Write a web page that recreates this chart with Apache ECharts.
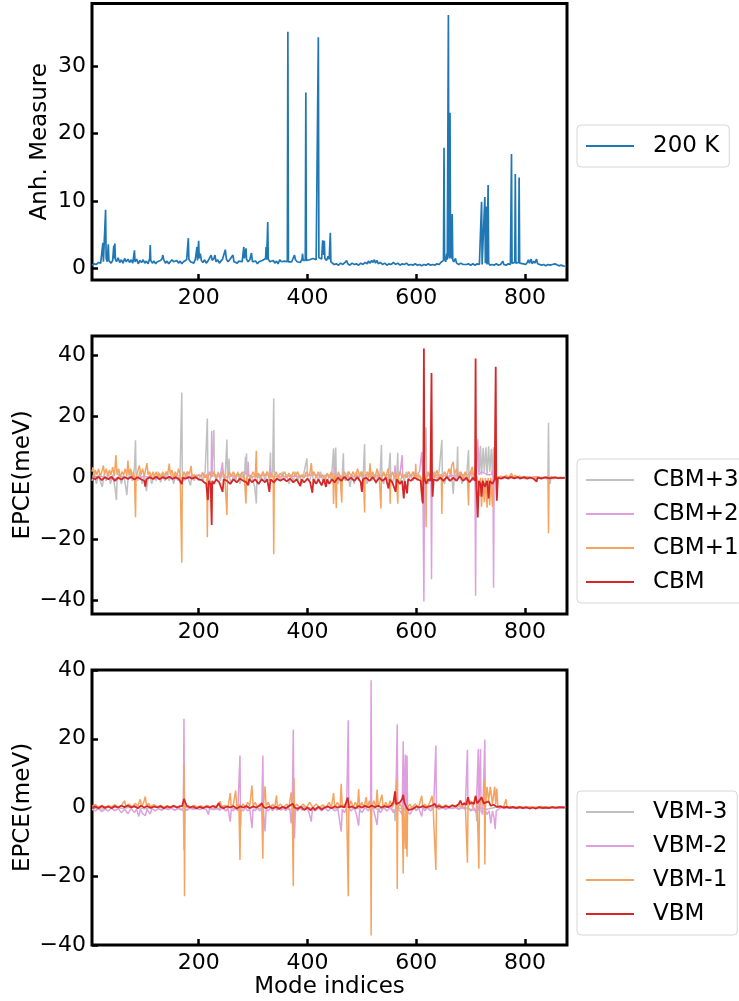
<!DOCTYPE html>
<html>
<head>
<meta charset="utf-8">
<title>Anharmonicity and EPCE</title>
<script src="https://cdn.jsdelivr.net/npm/echarts@6.0.0/dist/echarts.min.js"></script>
<style>
    html, body { margin: 0; padding: 0; background: #fff; }
    #main { width: 739px; height: 1001px; }
</style>
</head>
<body>
<div id="main"></div>
<script>
// ---- data: [mode index, value] ----
var xTicks = [200, 400, 600, 800];
var anhTicks = [0, 10, 20, 30];
var epceTicks = [-40, -20, 0, 20, 40];

var anh200K = [
    [4,0.5],[8,0.7],[12,0.6],[16,0.9],[20,0.8],[23,1.0],[24,3.8],[25,1.0],[27,1.2],[29,8.7],[30,1.5],[32,1.0],[34,3.6],[35,1.2],[37,1.4],[39,0.8],[42,1.2],[44,3.4],[45,1.5],[46,3.7],[47,1.4],[49,1.0],
    [52,1.6],[55,0.9],[58,1.3],[61,0.8],[64,1.5],[67,1.0],[70,1.4],[73,0.9],[76,1.3],[79,0.8],[82,2.7],[83,1.0],[86,1.4],[89,0.7],[92,1.2],[95,0.9],[98,1.3],[101,0.8],[104,1.1],[107,0.7],[110,1.5],[111,3.5],[112,1.2],
    [115,0.8],[118,1.1],[121,0.7],[124,1.0],[127,0.8],[130,1.2],[133,1.5],[134,2.0],[136,1.3],[139,0.8],[142,1.1],[145,0.7],[148,1.0],[151,1.3],[152,1.5],[154,1.0],[157,0.8],[160,1.2],[163,0.8],[166,1.1],[169,0.7],
    [172,1.0],[175,0.9],[178,1.3],[181,4.5],[182,1.4],[185,1.0],[188,1.2],[191,0.8],[194,1.4],[197,3.2],[198,1.2],[200,4.1],[201,1.5],[203,2.2],[205,1.2],[208,0.9],[211,1.3],[214,0.8],[217,1.1],[220,1.3],[223,2.0],
    [225,1.2],[228,1.5],[230,2.0],[232,1.0],[235,1.3],[238,0.8],[241,1.1],[244,1.4],[247,1.6],[249,2.8],[251,1.4],[254,1.0],[257,1.3],[260,1.1],[263,2.0],[265,1.0],[268,1.2],[271,0.8],[274,1.1],[277,1.3],[280,1.0],
    [283,3.2],[284,1.5],[287,3.0],[288,1.4],[291,1.0],[294,1.3],[297,2.3],[299,1.0],[302,0.8],[305,1.1],[308,0.7],[311,1.0],[314,0.8],[317,1.2],[320,1.0],[323,1.5],[324,3.2],[325,1.3],[327,6.9],[328,1.4],[331,1.0],
    [334,0.8],[337,1.2],[340,0.8],[343,1.1],[346,0.7],[349,1.3],[352,1.0],[355,0.8],[358,1.1],[361,0.9],[363,1.0],[364,35.1],[365,1.0],[368,1.2],[371,1.0],[374,1.6],[376,2.0],[378,1.3],[381,1.0],[384,1.2],[387,0.9],
    [390,1.4],[391,2.2],[392,1.2],[395,1.0],[396,1.2],[397,26.1],[398,1.2],[401,1.0],[404,1.3],[407,1.1],[410,1.5],[413,1.7],[416,1.3],[419,1.5],[420,34.3],[421,1.6],[424,1.8],[426,1.4],[428,4.2],[430,2.0],[431,4.1],
    [432,1.5],[435,1.2],[438,1.8],[440,1.4],[442,5.3],[443,1.0],[446,0.8],[449,0.6],[453,0.7],[457,0.5],[461,0.8],[465,0.6],[469,0.9],[472,1.2],[474,0.7],[478,0.5],[482,0.8],[486,0.6],[490,0.7],[494,0.5],[498,0.8],
    [502,0.6],[506,0.9],[510,0.7],[512,1.1],[515,0.8],[518,1.2],[520,0.9],[523,1.3],[525,0.8],[528,1.2],[530,0.7],[534,0.9],[538,0.6],[542,0.8],[546,0.5],[550,0.7],[554,0.6],[558,0.9],[562,0.6],[566,0.8],[570,0.5],
    [574,0.7],[578,0.6],[582,0.8],[586,0.5],[590,0.6],[594,0.5],[598,0.7],[602,0.5],[606,0.6],[610,0.4],[614,0.6],[618,0.5],[622,0.7],[626,0.5],[630,0.6],[634,0.5],[638,0.7],[642,0.6],[645,0.9],[648,0.8],[650,1.2],
    [651,17.9],[652,1.5],[654,1.0],[656,2.2],[657,1.3],[658,1.5],[659,37.6],[660,2.0],[661,1.5],[662,23.1],[663,2.0],[665,1.5],[666,8.1],[667,1.3],[669,1.0],[672,1.5],[674,0.8],[678,0.6],[682,0.8],[686,0.6],[688,0.8],
    [692,0.6],[696,0.7],[700,0.5],[704,0.7],[708,0.5],[712,0.7],[716,0.6],[719,0.5],[720,9.9],[721,0.6],[723,0.8],[726,10.6],[727,0.8],[728,1.0],[729,9.2],[730,0.6],[731,0.7],[732,12.4],[733,0.8],[735,0.5],[739,0.6],
    [743,0.5],[747,0.7],[751,0.5],[755,0.6],[759,1.1],[761,0.6],[765,0.5],[769,0.7],[773,0.6],[774,0.8],[775,17.0],[776,0.8],[778,0.6],[781,0.9],[782,14.0],[783,0.8],[785,0.6],[788,0.9],[789,13.5],[790,0.8],[793,0.6],
    [797,0.7],[801,0.6],[804,0.9],[806,1.3],[808,0.8],[811,1.4],[813,0.7],[816,1.1],[818,0.8],[821,1.4],[823,0.7],[826,0.6],[830,0.5],[834,0.6],[838,0.4],[842,0.6],[846,0.5],[850,0.6],[855,0.7],[858,0.5],[862,0.4],
    [866,0.5],[870,0.4],[873,0.3]
];

var cbm3 = [
    [4,-1],[8,2],[12,-2],[16,1],[20,-1.5],[23,-3],[26,1],[30,-1],[34,2],[38,-2],[42,1],[46,-3],[49,-7.3],[50,-1],[54,1.5],[58,-2],[62,1],[66,-3],[68,-5.7],[70,-1],[74,2],[78,-1],[82,3],[84,12.3],[85,1],[88,-1],
    [92,2],[96,-2],[100,1],[104,-4.4],[106,-1],[110,1],[114,-2],[118,1],[122,-1],[126,2],[130,-1.5],[134,1],[138,-1],[142,2],[146,-1],[150,1],[154,-2],[158,1],[162,-1],[166,2],[169,27.9],[170,1],[174,-1],[178,2],
    [182,-1],[185,-2.5],[188,1],[192,-1],[196,1],[200,-1],[204,1],[208,-1],[212,2],[216,19.4],[217,1],[220,-2],[224,2],[228,15.6],[229,1],[232,-1],[236,2],[240,-1],[244,3],[248,-2],[252,12.5],[253,0],[256,6.3],
    [257,0],[260,-2],[264,1],[268,-1],[272,2],[276,-2],[280,1],[284,-1],[286,6.9],[287,1],[288,8.0],[289,0],[292,-2],[296,1],[300,-1],[303,-3],[306,-8.4],[307,-1],[310,1],[314,-1],[318,2],[322,-1],[326,2],[330,-1],
    [332,8.3],[333,0],[336,2],[338,25.9],[339,0],[342,-1],[346,1],[350,-1],[354,2],[358,-1],[362,1],[366,-2],[370,1],[374,-1],[378,2],[382,-1],[386,1],[390,-2],[394,2],[399,6.3],[400,0],[404,-1],[408,2],[412,-2],
    [416,1],[420,-1],[424,2],[428,-1],[432,1],[436,-2],[440,1],[444,-1],[448,9.6],[449,0],[452,9.9],[453,0],[456,-2],[460,1],[463,-2],[466,8.0],[467,0],[470,-1],[474,2],[478,-3],[482,1],[486,-2],[490,2],[494,-1],
    [498,2],[502,-1],[505,11.0],[506,0],[510,-2],[514,2],[518,-1],[522,1],[526,-2],[530,2],[533,-1],[536,10.7],[537,0],[540,-2],[544,1],[548,-1],[552,8.2],[553,0],[556,-2],[560,1],[563,-3],[566,8.2],[567,0],
    [570,-2],[574,1],[578,-1],[582,2],[586,-1],[590,1],[594,-1],[598,2],[602,-1],[606,1],[610,-2],[614,3],[618,16.5],[619,0],[622,-2],[626,1],[630,-1],[634,2],[638,-1],[642,2],[647,12.4],[648,0],[652,-2],[656,1],
    [660,-1],[664,3],[668,-5.3],[670,1],[674,-1],[676,10.2],[677,0],[680,2],[684,-2],[688,1],[692,-1],[696,9.1],[697,0],[700,2],[704,-1],[708,3],[714,10],[716,2],[718,10.5],[720,1],[723,9.8],[725,2],[728,10],
    [730,1],[733,10.3],[735,2],[738,9.5],[740,1],[742,10],[744,0],[746,1],[750,-0.5],[755,0.5],[760,-0.3],[765,0.5],[770,-0.5],[775,0.8],[780,-0.3],[785,0.5],[790,-0.5],[795,0.3],[800,-0.4],[805,0.5],[810,-0.3],
    [815,0.3],[820,-0.5],[825,0.4],[830,-0.6],[835,0.3],[840,-0.5],[842,1],[843,18.0],[844,-1],[846,-2],[848,0.5],[852,-0.4],[856,0.3],[860,-0.3],[865,0.2],[870,-0.2],[873,0]
];

var cbm2 = [
    [4,0],[20,0.5],[40,-0.5],[60,0.3],[80,-0.3],[100,0.5],[120,-0.4],[140,0.3],[160,-0.3],[180,0.4],[200,0.8],[205,0.5],[207,1.9],[209,0.3],[215,1],[220,2],[223,0],[224,15.3],[225,0.5],[230,1],[236,0.3],
    [240,1],[243,0.5],[244,5],[245,0.2],[260,0.5],[275,1],[285,2],[290,1],[291,5.2],[292,0.5],[300,0.3],[320,1],[330,1],[331,3.6],[332,0.5],[350,0.3],[370,0.6],[390,0.4],[410,1],[430,0.5],[445,1],[450,1.5],
    [451,3.6],[452,0.5],[480,0.3],[500,0.8],[520,0.5],[540,0.8],[555,1],[560,1.5],[561,4.1],[562,0.5],[570,1],[574,7.4],[575,1],[580,0.5],[600,0.8],[606,2],[610,8.5],[612,1],[614,-40.5],[615,0],[620,1],
    [627,0],[628,-33.2],[629,0],[640,1],[660,0.5],[680,1],[695,1],[700,2],[705,1],[708,0],[709,-38.6],[710,0],[713,12.6],[715,1],[720,2],[730,1],[738,1],[740,2.5],[741,0.5],[742,-36],[743,0],[750,0.3],
    [770,0.1],[800,0],[840,0.1],[873,0]
];

var cbm1 = [
    [4,2],[6,3.5],[8,0.5],[10,2.5],[13,1],[16,3],[19,0.5],[22,2],[25,4],[27,1],[30,3],[33,0.5],[36,2.5],[39,1],[42,3.5],[45,0.5],[48,7.4],[50,1],[53,3],[56,0],[59,2],[62,1],[65,3],[68,0.5],[70,5.6],[72,1],
    [75,3],[78,0],[80,2],[82,0],[84,-12.9],[85,0],[88,2],[91,4],[94,1],[97,3],[100,0.5],[103,3],[105,4.8],[107,1],[110,2],[113,0],[116,2],[119,0.5],[122,2],[125,0],[128,1.5],[131,0],[134,2],[137,0.5],[140,2],
    [143,1],[146,4.6],[148,1],[151,2.5],[154,0],[157,2],[160,0.5],[163,3],[166,1],[169,-27.8],[170,0],[173,2],[176,0.5],[180,2],[183,1],[186,3.9],[188,0.5],[192,1],[196,0],[200,1],[204,0.5],[208,1.5],[212,0],
    [215,1],[216,-19.5],[217,0],[220,1.5],[224,0.5],[228,2],[232,0],[236,1.5],[240,0],[244,2],[248,0.5],[252,-12.2],[253,0],[256,2],[260,0.5],[264,2],[268,0],[272,1.5],[276,0],[280,2],[284,0],[287,-8.4],[288,0],
    [292,1],[296,0],[300,2],[304,0],[306,8.8],[307,0],[310,1.5],[314,0],[318,2],[322,0.5],[326,2],[330,0],[334,1.5],[337,0],[338,-25],[339,0],[342,2],[346,0],[350,1.5],[354,0.5],[358,2],[362,0],[366,1.5],
    [370,0],[374,2],[378,0.5],[382,2],[386,0],[390,1],[394,0],[398,2],[402,0.5],[405,2],[407,4.8],[409,1],[412,2],[416,0],[420,2],[424,0],[428,1],[432,-1],[436,1.5],[440,0],[444,2],[447,0],[448,-8.6],[449,0],
    [451,1],[453,-10],[454,0],[457,2],[460,0],[463,-8.2],[464,0],[468,2],[472,0],[476,2],[480,0.5],[484,2],[488,0],[492,3],[496,0.5],[500,2],[503,0],[505,-11.4],[506,0],[510,2],[513,0],[515,4.7],[517,0],
    [520,2],[524,0],[528,3],[532,0],[535,-10.1],[536,0],[540,2],[544,0],[548,3],[551,0],[552,-8.5],[553,0],[556,2],[560,0],[563,1.5],[566,-8.5],[567,0],[570,2],[574,0],[578,1],[582,0],[586,2],[590,0.5],
    [594,2],[598,0],[599,4.6],[600,0],[604,1],[608,0],[610,-7.8],[611,0],[614,2],[617,0],[618,-16.2],[619,0],[622,2],[626,0],[630,2],[634,0],[638,2.5],[642,0],[646,1],[647,-11.9],[648,0],[652,2],[656,0.5],
    [660,3],[663,1],[665,4],[668,5.2],[670,1],[674,3],[678,0],[682,2],[686,0],[690,2],[694,0],[696,-9.1],[697,0],[700,2],[703,3.6],[705,0],[708,2],[712,0],[716,-6],[718,0],[720,-9.5],[722,0],[725,-8],[727,0],
    [730,-9.8],[732,0],[735,-9],[737,0],[740,-9.5],[742,0],[744,1],[748,0],[755,0.5],[760,0],[765,0.8],[770,0.2],[775,1.4],[778,0.2],[782,0.8],[786,0],[790,0.5],[795,0],[800,0.3],[810,0],[820,0.3],[830,0],
    [838,0.2],[842,0],[843,-18.2],[844,0],[848,0.3],[855,0],[865,0.1],[873,0]
];

var cbm = [
    [4,0],[10,-0.5],[16,0.3],[22,-0.8],[28,0.2],[34,-0.5],[40,0.3],[46,-1],[52,0],[58,-0.6],[64,0.2],[70,-0.4],[76,0.3],[82,-0.6],[88,0.2],[94,-0.5],[100,-1],[102,-2.9],[104,-0.5],[110,0.2],[116,-0.4],
    [122,0.3],[128,-0.5],[134,0.2],[140,-0.3],[146,0.3],[152,-0.4],[158,0.2],[164,-0.5],[169,-2.1],[171,0],[176,-0.3],[182,0.2],[188,-0.3],[194,0.2],[200,-0.5],[206,-0.8],[210,-1.5],[214,-2],[217,-7.3],
    [219,-1],[222,-2],[224,-15.5],[225,-1],[228,-2],[232,-0.5],[238,-1.5],[244,-4.6],[246,-0.5],[252,-1],[258,-2],[264,-0.5],[270,-1.5],[276,-0.3],[282,-1],[288,-1.5],[291,-2.5],[293,-0.3],[298,-1.5],
    [304,-0.5],[310,-2],[316,-0.5],[322,-1.5],[326,-0.5],[330,-4.6],[332,-0.5],[338,-1.5],[344,-0.3],[350,-1],[356,-0.3],[362,-1.2],[368,-0.3],[374,-1.5],[380,-0.5],[387,-2.7],[389,-0.5],[394,-1.5],[400,-0.3],
    [405,-1.5],[409,-4.9],[411,-0.5],[416,-2],[420,-0.5],[426,-2.5],[430,-0.5],[434,-3],[436,-0.5],[440,-2],[445,-0.5],[450,-1.5],[456,0],[462,-1],[468,0.3],[474,-0.8],[480,0],[486,-1],[492,0.2],[498,-1.5],
    [500,-4.6],[502,-0.5],[508,0],[514,-1],[520,0.2],[526,-1.5],[532,0],[538,-1],[544,0],[549,-3.5],[551,-0.5],[556,-1.5],[562,-4.6],[564,-0.5],[570,-2],[574,-1],[577,-6.8],[579,-1],[583,-5.1],[585,-0.5],
    [590,-1],[596,0],[602,-0.5],[608,-1],[612,-8.4],[613,0],[614,42.3],[615,0],[618,-2],[622,-0.5],[626,-1],[628,34.3],[629,-1],[630,-6.2],[632,-0.5],[638,-1],[644,0],[650,-1],[656,0.3],[662,-1],[668,0],
    [674,-1],[680,0.5],[686,-1],[692,0],[698,-1.5],[704,0],[708,-1],[709,39.0],[710,-1],[713,-13],[715,-1],[718,-2],[720,-6.2],[722,-1],[726,-3],[730,-1],[733,-6.8],[735,-1],[740,-2],[744,-0.5],[746,36.3],
    [747,-1],[748,-7.5],[750,0],[756,-0.3],[762,0.2],[768,-0.2],[774,0.2],[780,-0.2],[786,0.2],[792,-0.2],[798,0.2],[804,-0.3],[810,0.1],[816,-0.4],[821,-1.3],[823,0],[830,-0.2],[838,0.1],[846,-0.2],
    [854,0.1],[862,-0.1],[873,0]
];

var vbm3 = [
    [4,0],[20,-0.5],[40,0.3],[60,-0.3],[80,0.2],[100,-0.4],[120,0.2],[140,-0.3],[160,0.3],[172,-1],[173,-12.4],[174,0],[190,-0.3],[210,0.2],[230,-0.6],[250,0.3],[270,-0.5],[290,0.3],[310,-0.4],[330,0.3],
    [350,-0.3],[370,-0.5],[390,0.3],[410,-0.3],[430,0.2],[450,-0.3],[470,0.3],[490,-0.4],[510,0.2],[530,-0.5],[550,0.3],[560,-1],[561,-4],[562,0],[580,-0.5],[600,0.3],[620,-0.3],[640,0.2],[660,-0.3],
    [680,0.3],[700,-0.5],[710,-1],[711,-4],[712,0],[730,-0.5],[750,0.2],[780,-0.2],[820,0.1],[873,0]
];

var vbm2 = [
    [4,-0.5],[10,-1],[16,-0.3],[22,-1.2],[28,-0.5],[34,-1],[40,-0.2],[46,-1],[52,-0.3],[58,-1.5],[64,-0.5],[70,-1.8],[76,-0.3],[82,-1.5],[86,-0.5],[90,-2.6],[93,-0.5],[97,-1.8],[102,-2.4],[105,-0.5],
    [108,-1.2],[111,-1.9],[114,-0.3],[120,-1],[126,-0.3],[132,-0.8],[138,-0.2],[144,-0.6],[150,-0.2],[156,-0.8],[162,-0.3],[168,-0.7],[172,0],[173,25.8],[174,-0.5],[178,-0.8],[184,-0.2],[190,-0.5],[196,-0.2],
    [202,-0.6],[208,-0.2],[214,-0.6],[218,-2.1],[220,-0.3],[226,-0.6],[232,0],[238,-0.8],[244,-0.2],[250,-1],[254,-0.2],[258,-4.1],[260,-0.5],[264,-1],[268,0],[272,-1],[275,-0.5],[276,15.1],[277,-5.5],
    [278,-0.5],[282,-1],[286,0],[290,-1],[294,-0.5],[298,-6],[300,-0.5],[304,-1],[308,0],[312,-1],[316,-0.5],[318,15.1],[319,-0.5],[322,-7],[324,-0.5],[328,-1],[332,0],[336,-1],[340,0],[344,-0.8],[348,0],
    [352,-0.8],[356,0],[360,-1],[364,0],[368,-1],[370,-4.6],[372,-0.5],[374,22.7],[375,-0.5],[376,-9],[378,-0.5],[382,-1],[386,0],[390,-0.8],[396,0],[402,-1],[407,-4.1],[409,-0.5],[414,-1],[420,0],[426,-1],
    [432,0],[438,-1],[444,0],[450,-1],[456,-0.5],[462,-7],[464,-0.5],[468,-1.5],[472,0],[475,25.4],[476,0],[480,-1],[486,0],[490,-2],[494,-5.3],[496,-0.5],[500,-1.5],[506,0],[512,-1],[516,0],[517,37.0],
    [518,0],[522,-1],[528,-5.1],[530,-0.5],[534,-1.5],[540,0],[546,-1],[552,0],[558,-1.5],[562,-0.5],[565,24.2],[566,-0.5],[570,-1],[574,-2],[576,19.3],[577,-1],[580,15.4],[581,-1],[583,15.1],[584,-1],
    [588,-2],[592,-1],[596,0],[600,-1],[604,0],[610,-2.6],[612,0],[616,-1],[620,0],[626,-1],[632,0],[636,18.0],[637,0],[642,-0.5],[648,0],[654,-0.5],[660,0],[666,-0.3],[672,0],[678,-0.5],[684,0],[690,-0.5],
    [694,16.8],[695,0],[700,-1],[706,0],[710,-1.5],[714,17.0],[715,-1],[718,17],[719,-1],[722,-2],[726,19.8],[727,-1],[730,-2],[734,-1],[737,-4.6],[740,-1],[743,-3],[745,-6.3],[747,-1],[750,-0.5],[756,0],
    [762,-0.3],[770,0],[780,-0.3],[790,0],[800,-0.2],[810,0],[820,-0.3],[830,0],[840,-0.2],[850,0],[860,-0.2],[873,0]
];

var vbm1 = [
    [4,0.3],[10,0.8],[16,0.2],[22,0.6],[28,0],[34,0.5],[40,0.2],[46,0.8],[52,0.1],[58,0.6],[64,2],[66,0.3],[72,1],[78,0.2],[84,1.2],[88,0.4],[93,2.4],[95,0.3],[99,1.5],[102,3.2],[104,0.5],[108,1.2],
    [112,0.3],[118,0.8],[124,0.2],[130,0.6],[136,0],[142,0.5],[148,0.1],[154,0.6],[160,0],[166,0.5],[172,0.2],[173,12.5],[174,-25.8],[175,0.3],[180,0.5],[186,0],[192,0.6],[198,0.1],[204,0.5],[210,0],
    [216,0.6],[222,0.1],[228,0.5],[234,0.2],[240,1.8],[242,0.2],[248,0.6],[254,0],[258,4.2],[260,0],[264,1],[268,4.9],[270,0.3],[274,1],[276,-15.3],[277,0],[282,1],[286,0],[290,1.5],[294,0.5],[298,6.4],
    [300,0.5],[304,1.5],[308,0],[312,1],[316,0],[318,-14.9],[319,0],[322,6.2],[324,0.5],[328,1.5],[332,0],[336,1],[340,0],[343,3.5],[345,0],[350,1],[356,0],[362,1],[366,0],[370,4.4],[372,0],[374,-22.9],
    [375,8.6],[376,0],[380,1],[386,0],[392,1],[398,0],[404,1.5],[410,0],[416,1],[422,0],[428,0.8],[434,0],[440,1.5],[444,0],[448,4.2],[450,0],[455,1.5],[460,0],[462,6.9],[464,0],[468,1],[472,0],[475,-25.8],
    [476,0],[480,2],[484,0],[488,1.5],[492,0],[494,5.4],[496,0],[500,1.5],[504,0],[508,3],[510,0],[514,2],[516,0],[517,-37.2],[518,0],[522,2],[526,0],[528,5.2],[530,0],[534,2],[537,3.7],[539,0],[544,1.5],
    [548,0],[552,2],[556,0],[560,1.5],[564,7.9],[565,-23.7],[566,0],[570,1],[574,0],[576,-19.2],[577,0],[580,-12],[581,0],[583,-14.3],[584,0],[588,1],[592,0],[598,1],[604,0],[610,3.4],[612,0],[616,1],
    [620,0],[625,1.5],[629,3.4],[631,0],[636,-18.2],[637,0],[642,1],[648,0],[654,0.8],[660,0],[666,0.8],[672,0],[678,1],[684,0.2],[690,1.5],[694,-16.1],[695,0],[700,2],[704,0],[708,3],[712,0.5],[715,-17.8],
    [716,0],[720,3],[724,0.5],[725,8],[726,-16.6],[727,0],[730,6],[733,2],[736,6],[740,1],[744,6],[746,1],[748,5.5],[750,0],[756,0.5],[760,0],[765,2.4],[767,0],[772,0.3],[780,0],[790,0.3],[800,0],[810,0.2],
    [820,0],[830,0.3],[840,0],[850,0.2],[860,0],[873,0.1]
];

var vbm = [
    [4,0],[10,0.3],[16,-0.2],[22,0.4],[28,-0.1],[34,0.3],[40,-0.2],[46,0.4],[52,0],[58,0.5],[64,0.1],[70,0.6],[76,0],[82,0.4],[88,-0.2],[94,0.5],[100,0],[106,0.4],[112,-0.1],[118,0.3],[124,0],[130,0.4],
    [136,-0.2],[142,0.3],[148,0],[154,0.5],[160,0],[166,0.3],[170,0.5],[173,2.5],[176,2.7],[178,0.5],[184,0],[190,0.3],[196,-0.3],[202,0.2],[208,-0.2],[214,0.3],[220,0],[226,0.4],[232,0],[237,1.3],[240,0.2],
    [246,-0.2],[252,0.3],[258,0],[264,0.4],[270,-0.3],[276,0.3],[282,0],[288,0.4],[294,-0.2],[300,0.3],[306,0],[312,0.5],[316,1.3],[319,0.2],[324,-0.2],[330,0.3],[336,-0.3],[342,0.2],[348,-0.4],[354,0.2],
    [360,-0.2],[366,0.4],[373,1.1],[376,0],[382,-0.4],[388,0.2],[394,-0.7],[400,0],[406,-0.8],[410,0],[414,-0.7],[420,0.2],[426,-0.6],[432,0],[438,0.3],[444,-0.2],[450,0.3],[456,0],[462,0.4],[468,0],
    [474,2.9],[476,0],[482,0.3],[488,-0.2],[494,0.4],[500,0],[506,0.5],[512,0],[518,0.6],[524,0.1],[530,0.5],[536,0],[542,0.4],[548,0.1],[554,0.6],[558,1.5],[561,4.7],[563,1],[566,0.5],[570,1.5],[574,2.5],
    [576,3.7],[578,1.5],[582,0],[586,-0.8],[589,-1.2],[592,-0.5],[596,-0.2],[600,0.3],[606,0],[612,0.4],[618,0],[624,0.3],[630,0.6],[634,1.1],[637,0.2],[642,0.4],[648,0],[654,0.4],[660,0.1],[666,0.6],
    [672,0.3],[678,1],[681,2],[684,0.8],[688,1.2],[692,0.8],[695,3],[698,1],[702,1.5],[706,1],[709,3.4],[712,1.2],[716,2],[720,3],[724,1.2],[728,1.5],[733,1.8],[737,0.5],[742,0.8],[748,0.2],[754,0.3],
    [760,0],[766,0.2],[772,-0.1],[778,0.2],[784,-0.2],[790,0.1],[796,-0.2],[802,0.1],[808,-0.3],[814,0],[820,-0.3],[826,0.1],[832,-0.2],[838,0],[844,-0.2],[850,0.1],[856,-0.1],[862,0.1],[873,0]
];

var FONT = 'DejaVu Sans';
var C_BLUE = '#1f77b4', C_GRAY = '#c0c0c0', C_PLUM = '#dda0dd', C_ORANGE = '#f4a460', C_RED = '#d62728';

RenderChart();

// matplotlib style minus sign on tick labels
function tickText(v) {
    return String(v).replace('-', '\u2212');
}

/**
 * x axis shared by the three panels
 */
function makeXAxis(idx, withName) {
    return {
        type: 'value', gridIndex: idx, min: 4, max: 877,
        name: withName ? 'Mode indices' : '',
        nameLocation: 'middle', nameGap: 31, nameMoveOverlap: false,
        nameTextStyle: { fontFamily: FONT, fontSize: 23, color: '#000' },
        axisLine: { show: false, onZero: false },
        splitLine: { show: false },
        axisTick: { show: true, inside: true, length: 6, customValues: xTicks, lineStyle: { color: '#000', width: 2.5 } },
        axisLabel: { customValues: xTicks, margin: 7, fontFamily: FONT, fontSize: 22, color: '#000', formatter: tickText }
    };
}

function makeYAxis(idx, name, min, max, ticks, gap) {
    return {
        type: 'value', gridIndex: idx, min: min, max: max,
        name: name, nameLocation: 'middle', nameGap: gap, nameMoveOverlap: false,
        nameTextStyle: { fontFamily: FONT, fontSize: 23, color: '#000' },
        axisLine: { show: false, onZero: false },
        splitLine: { show: false },
        axisTick: { show: true, inside: true, length: 6, customValues: ticks, lineStyle: { color: '#000', width: 2.5 } },
        axisLabel: { customValues: ticks, margin: 6, fontFamily: FONT, fontSize: 22, color: '#000', formatter: tickText }
    };
}

function makeLegend(names, top) {
    return {
        data: names, orient: 'vertical', left: 577, top: top,
        icon: 'rect', itemWidth: 48, itemHeight: 2, itemGap: 6,
        padding: [7, 10, 7, 9],
        backgroundColor: 'rgba(255,255,255,0.8)',
        borderColor: '#d6d6d6', borderWidth: 1, borderRadius: 4,
        textStyle: { fontFamily: FONT, fontSize: 23, lineHeight: 28, color: '#000', padding: [0, 0, 0, 14] }
    };
}

function line(name, data, color, idx, width) {
    return {
        name: name, type: 'line', data: data, xAxisIndex: idx, yAxisIndex: idx,
        showSymbol: false, symbol: 'none', animation: false, clip: true,
        color: color,
        lineStyle: { color: color, width: width || 1.5 }
    };
}

function RenderChart() {
    var dom = document.getElementById('main');
    var chart = echarts.init(dom, null, { renderer: 'canvas', width: 739, height: 1001 });
    var gridStyle = { show: true, borderColor: '#000', borderWidth: 3, backgroundColor: '#fff', left: 92, width: 475 };

    var option = {
        backgroundColor: '#fff',
        animation: false,
        grid: [
            Object.assign({ top: 3.5, height: 276.5 }, gridStyle),
            Object.assign({ top: 336, height: 278 }, gridStyle),
            Object.assign({ top: 670, height: 275 }, gridStyle)
        ],
        xAxis: [makeXAxis(0, false), makeXAxis(1, false), makeXAxis(2, true)],
        yAxis: [
            makeYAxis(0, 'Anh. Measure', -1.7, 39.3, anhTicks, 40),
            makeYAxis(1, 'EPCE(meV)', -44.6, 46.4, epceTicks, 57),
            makeYAxis(2, 'EPCE(meV)', -40, 40, epceTicks, 57)
        ],
        legend: [
            makeLegend(['200 K'], 125),
            makeLegend(['CBM+3', 'CBM+2', 'CBM+1', 'CBM'], 459),
            makeLegend(['VBM-3', 'VBM-2', 'VBM-1', 'VBM'], 791)
        ],
        series: [
            line('200 K', anh200K, C_BLUE, 0, 1.7),
            line('CBM+3', cbm3, C_GRAY, 1),
            line('CBM+2', cbm2, C_PLUM, 1),
            line('CBM+1', cbm1, C_ORANGE, 1),
            line('CBM', cbm, C_RED, 1, 1.8),
            line('VBM-3', vbm3, C_GRAY, 2),
            line('VBM-2', vbm2, C_PLUM, 2),
            line('VBM-1', vbm1, C_ORANGE, 2),
            line('VBM', vbm, C_RED, 2, 1.8)
        ]
    };

    chart.setOption(option);
}
</script>
</body>
</html>
